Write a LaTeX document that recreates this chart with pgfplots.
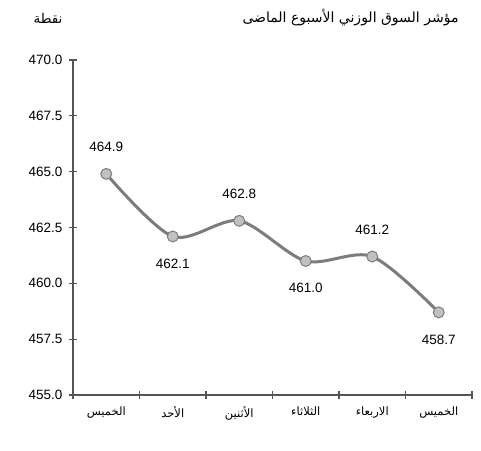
\documentclass[border=0pt]{standalone}
\usepackage{fontspec}
\setmainfont{Liberation Sans}
\newfontfamily\arabicfont[Script=Arabic]{DejaVu Sans}
\TeXXeTstate=1
\usepackage{pgfplots}
\pgfplotsset{compat=1.18}

\definecolor{axisgray}{HTML}{555555}
\definecolor{linegray}{HTML}{7C7C7C}
\definecolor{markgray}{HTML}{C0C0C0}

\newcommand{\ar}[1]{{\arabicfont\beginR #1\endR}}

\begin{document}
\begin{tikzpicture}
\useasboundingbox (0,0) rectangle (481pt,450pt);
\node[anchor=east, font=\fontsize{14}{16}\selectfont] at (462pt,432pt) {\ar{مؤشر السوق الوزني الأسبوع الماضى}};
\node[anchor=east, font=\fontsize{13.5}{16}\selectfont] at (66pt,432pt) {\ar{نقطة}};
\begin{axis}[
  at={(73pt,55pt)}, anchor=south west,
  scale only axis,
  width=399pt, height=335pt,
  xmin=0, xmax=6, ymin=455, ymax=470,
  axis lines=left,
  axis line style={axisgray, line width=1.3pt, -},
  xtick={0,...,6},
  x tick label as interval=true,
  xticklabels={\ar{الخميس},\ar{الأحد},\ar{الأثنين},\ar{الثلاثاء},\ar{الاربعاء},\ar{الخميس}},
  ytick={455,457.5,...,470},
  /pgf/number format/assume math mode=true,
  tick style={axisgray, line width=1.3pt},
  major tick length=8pt,
  tick align=center,
  ticklabel style={font=\fontsize{13.5}{16}\selectfont},
  yticklabel style={xshift=-3pt, /pgf/number format/fixed, /pgf/number format/fixed zerofill, /pgf/number format/precision=1},
  xticklabel style={font=\fontsize{11.5}{13}\selectfont, yshift=-4pt},
  clip=false,
  nodes near coords style={font=\fontsize{13.5}{16}\selectfont, /pgf/number format/fixed, /pgf/number format/fixed zerofill, /pgf/number format/precision=1},
]
\addplot[linegray, line width=3pt, smooth, mark=*, mark size=5.5pt,
  mark options={fill=markgray, draw=linegray, line width=1pt}]
  coordinates {(0.5,464.9) (1.5,462.1) (2.5,462.8) (3.5,461.0) (4.5,461.2) (5.5,458.7)};
\addplot[draw=none, mark=none, point meta=y, nodes near coords,
  every node near coord/.append style={anchor=center, yshift=27pt}]
  coordinates {(0.5,464.9) (2.5,462.8) (4.5,461.2)};
\addplot[draw=none, mark=none, point meta=y, nodes near coords,
  every node near coord/.append style={anchor=center, yshift=-27pt}]
  coordinates {(1.5,462.1) (3.5,461.0) (5.5,458.7)};
\end{axis}
\end{tikzpicture}
\end{document}
